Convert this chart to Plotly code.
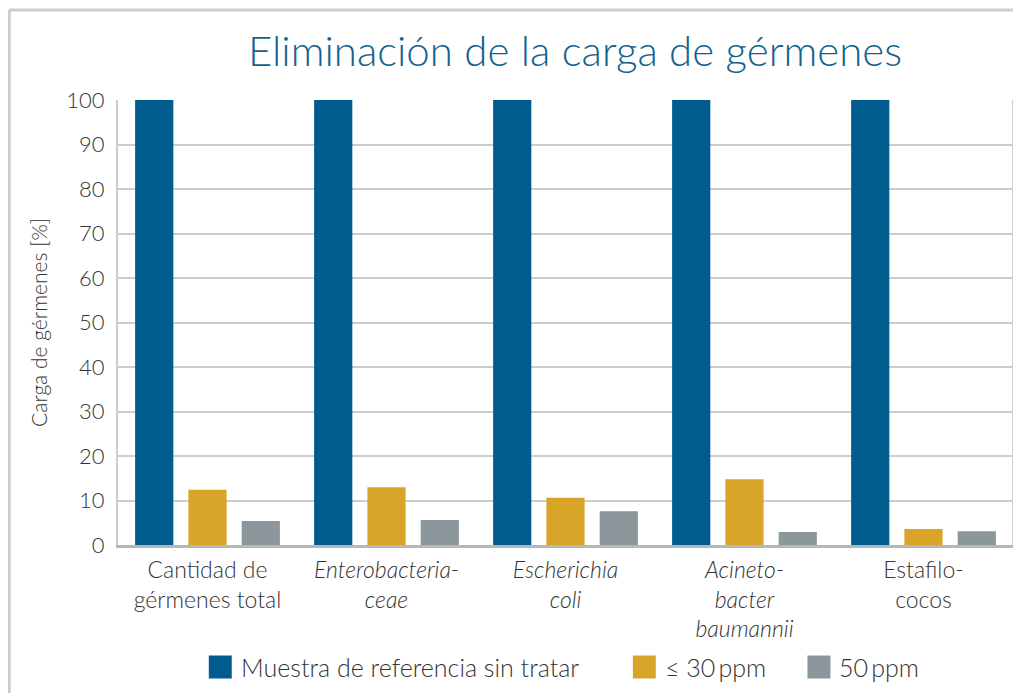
"""
Eliminación de la carga de gérmenes
Grouped bar chart recreated with Plotly.
"""

import plotly.graph_objects as go

# Data
categories = [
    "Cantidad de<br>gérmenes total",
    "<i>Enterobacteria-<br>ceae</i>",
    "<i>Escherichia<br>coli</i>",
    "<i>Acineto-<br>bacter<br>baumannii</i>",
    "Estafilo-<br>cocos",
]
series_names = ["Muestra de referencia sin tratar", "≤ 30\u2009ppm", "50\u2009ppm"]
reference_values = [100, 100, 100, 100, 100]
ppm30_values = [12.4, 13.0, 10.6, 14.8, 3.6]
ppm50_values = [5.4, 5.6, 7.6, 2.9, 3.1]
y_ticks = [0, 10, 20, 30, 40, 50, 60, 70, 80, 90, 100]

# Styles
colors = ["#005b8f", "#d8a528", "#8c979b"]
grid_color = "#c9ced1"
text_color = "#333333"
title_color = "#11628f"
font_family = "Lato"

# The page puts the figure 8px in from the top-left corner
W, H = 1013, 685
L, R, T, B = 110, 6, 92, 148
PW, PH = W - L - R, H - T - B


def px_x(x):
    """Figure pixel x -> paper x."""
    return (x - L) / PW


def px_y(y):
    """Figure pixel y (from top) -> paper y."""
    return (H - B - y) / PH


fig = go.Figure()

for name, values, color in zip(series_names,
                               [reference_values, ppm30_values, ppm50_values],
                               colors):
    fig.add_trace(
        go.Bar(
            x=categories,
            y=values,
            name=name,
            marker_color=color,
            marker_line_width=0,
            showlegend=False,
        )
    )

fig.update_layout(
    width=W,
    height=H,
    barmode="group",
    bargap=0.107,
    bargroupgap=0.283,
    plot_bgcolor="white",
    paper_bgcolor="white",
    margin=dict(l=L, r=R, t=T, b=B),
    font=dict(family=font_family, color=text_color, weight=300),
    title=dict(
        text="Eliminación de la carga de gérmenes",
        font=dict(size=42, color=title_color, family=font_family, weight=300),
        x=567 / W,
        xanchor="center",
        y=1 - 43 / H,
        yanchor="middle",
    ),
)

fig.update_yaxes(
    range=[0, 100],
    tickvals=y_ticks,
    tickfont=dict(size=22, color=text_color),
    showgrid=True,
    gridcolor=grid_color,
    gridwidth=2,
    showline=True,
    linecolor=grid_color,
    linewidth=2,
    mirror=True,
    ticks="",
    ticklabelstandoff=7,
    zeroline=False,
    title=dict(
        text="Carga de gérmenes [%]",
        font=dict(size=21, color=text_color),
        standoff=13,
    ),
)

fig.update_xaxes(
    tickfont=dict(size=23, color=text_color),
    showline=True,
    linecolor="#b3b8bb",
    linewidth=3,
    mirror=False,
    ticks="",
    ticklabelstandoff=2,
)

# Right border of the plot area
fig.add_shape(type="line", xref="paper", yref="paper", x0=1, x1=1, y0=0, y1=1,
              line=dict(color=grid_color, width=2))

# Outer frame of the figure (runs off the right and bottom edges)
fig.add_shape(type="line", xref="paper", yref="paper",
              x0=px_x(1), x1=2, y0=px_y(2), y1=px_y(2),
              line=dict(color=grid_color, width=3))
fig.add_shape(type="line", xref="paper", yref="paper",
              x0=px_x(1), x1=px_x(1), y0=-2, y1=px_y(2),
              line=dict(color=grid_color, width=3))

# Manual legend with large square swatches
legend_x = [201, 626, 801]
legend_y = 659
swatch = 23
for name, color, lx in zip(series_names, colors, legend_x):
    fig.add_shape(
        type="rect",
        xref="paper", yref="paper",
        x0=px_x(lx), x1=px_x(lx + swatch),
        y0=px_y(legend_y + swatch / 2), y1=px_y(legend_y - swatch / 2),
        fillcolor=color, line_width=0,
    )
    fig.add_annotation(
        xref="paper", yref="paper",
        x=px_x(lx + swatch + 7), y=px_y(legend_y),
        text=name, showarrow=False,
        xanchor="left", yanchor="middle",
        font=dict(size=25, color=text_color),
    )

fig.write_html("out.html")
